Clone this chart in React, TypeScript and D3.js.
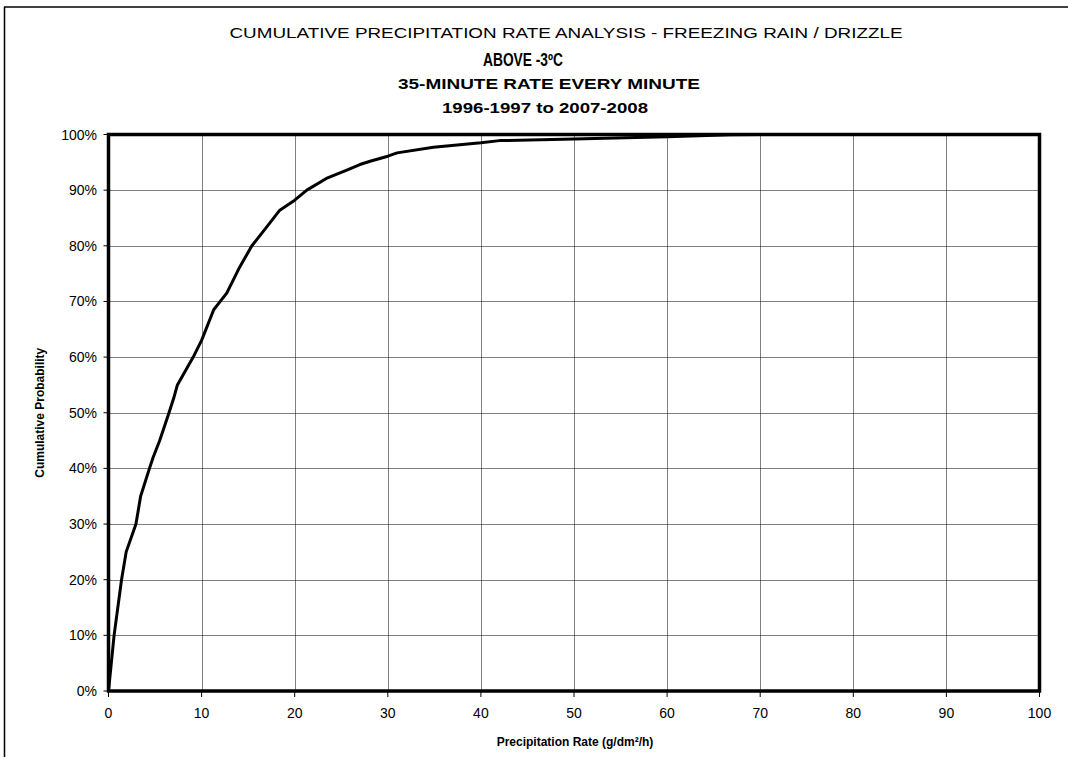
import * as d3 from "d3";

// cumulative curve
const rate = [0, 0.6, 1.4, 1.9, 2.95, 3.45, 4.4, 4.8, 5.5, 6.5, 7.0, 7.4, 9.1, 10, 11.3, 12, 12.7, 14.1, 15.4, 17, 18.4, 20, 21.3, 23.4, 25.6, 27, 28.1, 30, 31, 34.9, 40, 42, 50, 60, 66.8, 70, 100];
const prob = [0, 10, 20, 25, 30, 35, 40, 42, 45, 50, 52.6, 55, 60, 63, 68.5, 70, 71.5, 76.2, 80, 83.4, 86.4, 88.2, 90, 92.1, 93.6, 94.6, 95.2, 96.1, 96.7, 97.7, 98.5, 98.9, 99.2, 99.6, 99.95, 100, 100];

const xTicks = [0, 10, 20, 30, 40, 50, 60, 70, 80, 90, 100];
const yTicks = [0, 10, 20, 30, 40, 50, 60, 70, 80, 90, 100];

const titleLines = [
  "CUMULATIVE PRECIPITATION RATE ANALYSIS -  FREEZING RAIN / DRIZZLE",
  "ABOVE -3ºC",
  "35-MINUTE RATE EVERY MINUTE",
  "1996-1997 to 2007-2008",
];

const W = 1068, H = 757;
const PLOT = { left: 108.5, right: 1039.5, top: 134.5, bottom: 691 };
const FONT = "'Liberation Sans', Arial, sans-serif";

export default function App() {
  const x = d3.scaleLinear([0, 100], [PLOT.left, PLOT.right]);
  const y = d3.scaleLinear([0, 100], [PLOT.bottom, PLOT.top]);
  const pts = rate.map((r, i) => [r, prob[i]] as [number, number]);
  const line = d3.line<[number, number]>().x((d) => x(d[0])).y((d) => y(d[1]));

  return (
    <svg width={W} height={H} style={{ position: "absolute", left: 0, top: 0, background: "#fff" }}>
      {/* outer chart frame (only top/left visible) */}
      <line x1={4.5} y1={7} x2={4.5} y2={H} stroke="#000" strokeWidth={1.5} />
      <line x1={4} y1={7} x2={W} y2={7} stroke="#000" strokeWidth={1.5} />

      {/* titles */}
      <text x={566} y={38} textAnchor="middle" fontSize={15} fontFamily={FONT} textLength={673} lengthAdjust="spacingAndGlyphs">
        {titleLines[0]}
      </text>
      <text x={523} y={66} textAnchor="middle" fontSize={18} fontWeight="bold" fontFamily={FONT} textLength={80} lengthAdjust="spacingAndGlyphs">
        {titleLines[1]}
      </text>
      <text x={549} y={89} textAnchor="middle" fontSize={14} fontWeight="bold" fontFamily={FONT} textLength={302} lengthAdjust="spacingAndGlyphs">
        {titleLines[2]}
      </text>
      <text x={545} y={113} textAnchor="middle" fontSize={14} fontWeight="bold" fontFamily={FONT} textLength={206} lengthAdjust="spacingAndGlyphs">
        {titleLines[3]}
      </text>

      {/* grid */}
      {xTicks.slice(1, -1).map((t) => (
        <line key={`gx${t}`} x1={Math.round(x(t)) + 0.5} x2={Math.round(x(t)) + 0.5} y1={PLOT.top} y2={PLOT.bottom} stroke="#000" strokeWidth={1} strokeDasharray="1,1" />
      ))}
      {yTicks.slice(1, -1).map((t) => (
        <line key={`gy${t}`} x1={PLOT.left} x2={PLOT.right} y1={Math.round(y(t)) + 0.5} y2={Math.round(y(t)) + 0.5} stroke="#000" strokeWidth={1} strokeDasharray="1,1" />
      ))}

      {/* ticks + labels */}
      {yTicks.map((t) => (
        <g key={`ty${t}`}>
          <line x1={PLOT.left - 5} x2={PLOT.left} y1={y(t)} y2={y(t)} stroke="#000" strokeWidth={1} />
          <text x={97} y={y(t) + 5} textAnchor="end" fontSize={14} fontFamily={FONT}>{t}%</text>
        </g>
      ))}
      {xTicks.map((t) => (
        <g key={`tx${t}`}>
          <line x1={x(t)} x2={x(t)} y1={PLOT.bottom} y2={PLOT.bottom + 6} stroke="#000" strokeWidth={1} />
          <text x={x(t)} y={718} textAnchor="middle" fontSize={14} fontFamily={FONT}>{t}</text>
        </g>
      ))}

      {/* axis titles */}
      <text x={575} y={746} textAnchor="middle" fontSize={12} fontWeight="bold" fontFamily={FONT}>
        Precipitation Rate (g/dm²/h)
      </text>
      <text transform={`translate(44,${(PLOT.top + PLOT.bottom) / 2}) rotate(-90)`} textAnchor="middle" fontSize={12} fontWeight="bold" fontFamily={FONT}>
        Cumulative Probability
      </text>

      {/* curve */}
      <path d={line(pts) ?? ""} fill="none" stroke="#000" strokeWidth={3} strokeLinejoin="round" />

      {/* plot border */}
      <rect x={PLOT.left} y={PLOT.top} width={PLOT.right - PLOT.left} height={PLOT.bottom - PLOT.top} fill="none" stroke="#000" strokeWidth={3.5} />
    </svg>
  );
}
